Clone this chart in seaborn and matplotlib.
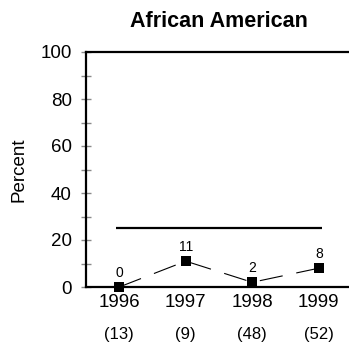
import matplotlib
matplotlib.use("Agg")
import matplotlib.pyplot as plt
import matplotlib.transforms as mtransforms
import seaborn as sns
import pandas as pd

# Percent of African American respondents by survey year
years = [1996, 1997, 1998, 1999]
percent = [0, 11, 2, 8]
sample_sizes = ["(13)", "(9)", "(48)", "(52)"]
target = 25
y_ticks = [0, 20, 40, 60, 80, 100]

sns.set_style("white")
plt.rcParams["font.family"] = ["Liberation Sans", "DejaVu Sans"]
plt.rcParams["text.color"] = "black"
plt.rcParams["axes.labelcolor"] = "black"

df = pd.DataFrame({"year": years, "percent": percent})

fig = plt.figure(figsize=(3.49, 3.49), dpi=100)
ax = fig.add_axes([86 / 349, 62 / 349, 266 / 349, 235 / 349])

sns.lineplot(
    data=df, x="year", y="percent", ax=ax,
    color="black", linewidth=0.8, linestyle=(0, (21, 12.5)),
    marker="s", markersize=6.5, markerfacecolor="black",
    markeredgecolor="black", markeredgewidth=0, clip_on=False, zorder=3,
)

# Goal line
ax.hlines(target, years[0] - 0.05, years[-1] + 0.05, color="black", linewidth=1.6)

# Value labels above each marker
for x, y in zip(years, percent):
    ax.annotate(str(y), (x, y), xytext=(0, 10), textcoords="offset points",
                ha="center", va="center", fontsize=10, color="black")

# Sample sizes under the year labels
trans = mtransforms.blended_transform_factory(ax.transData, ax.transAxes)
for x, n in zip(years, sample_sizes):
    ax.text(x, -0.204, n, transform=trans, ha="center", va="center",
            fontsize=12, color="black")

ax.set_xlim(1995.5, 1999.5)
ax.set_ylim(0, 100)
ax.set_xticks(years)
ax.set_xticklabels([str(y) for y in years])
ax.set_yticks(y_ticks)
ax.set_yticks(range(10, 100, 20), minor=True)

ax.spines["right"].set_visible(False)
for side in ("left", "bottom", "top"):
    ax.spines[side].set_visible(True)
    ax.spines[side].set_color("black")
    ax.spines[side].set_linewidth(1.6)

ax.tick_params(axis="both", which="both", direction="inout", length=6.5,
               width=1.0, color="#8a8a8a", labelsize=13.5, labelcolor="black")
ax.tick_params(axis="x", which="both", top=False, pad=1.5)
ax.tick_params(axis="y", which="both", left=True, right=False, pad=7)

ax.set_xlabel("")
ax.set_ylabel("Percent", fontsize=13.5, labelpad=9, color="black")
ax.set_title("African American", fontsize=15.5, fontweight="bold", pad=18,
             color="black")

fig.savefig("out.png", dpi=100)
